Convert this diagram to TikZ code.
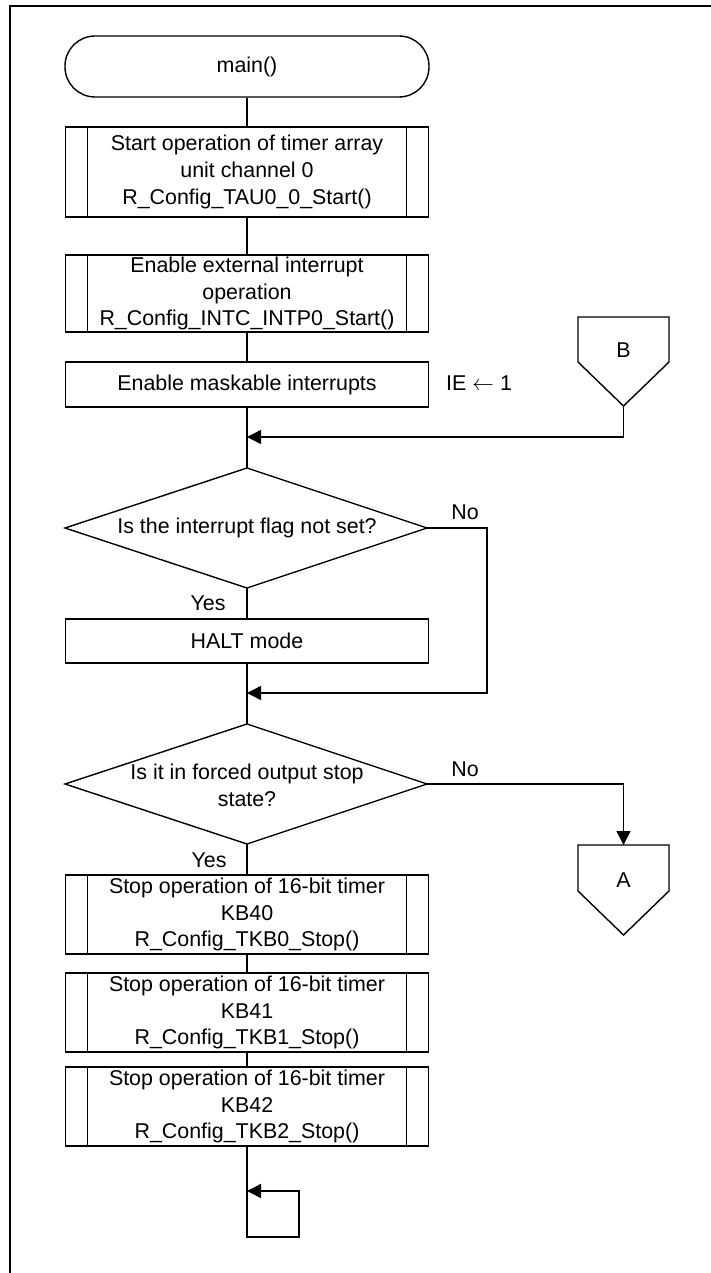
\documentclass[tikz,border=0pt]{standalone}
\usepackage{fontspec}
\setmainfont{Liberation Sans}
\usetikzlibrary{arrows.meta}
\begin{document}
\begin{tikzpicture}[x=0.5pt,y=-0.5pt, line width=0.7pt,
  every node/.style={font=\fontsize{10.7pt}{13.4pt}\selectfont},
  arr/.style={-{Triangle[length=7pt,width=7pt]}},
  box/.style={draw, rectangle, minimum width=181.5pt, inner sep=0pt, align=center, minimum height=#1},
  subproc/.style={box=#1, path picture={
     \draw ([xshift=11pt]path picture bounding box.north west) -- ([xshift=11pt]path picture bounding box.south west);
     \draw ([xshift=-11pt]path picture bounding box.north east) -- ([xshift=-11pt]path picture bounding box.south east);}},
  lbl/.style={inner sep=0pt},
  frame/.style={line width=1.2pt}
]
\useasboundingbox (0,0) rectangle (711,1273);
% frame
\draw[frame] (10,1273) -- (10,6) -- (711,6);

% nodes
\node[draw, rounded corners=15pt, minimum width=182pt, minimum height=30.5pt, inner sep=0pt] (start) at (247,66.5) {main()};
\node[subproc=45pt] (b1) at (247,172) {Start operation of timer array\\unit channel 0\\R\_Config\_TAU0\_0\_Start()};
\node[subproc=38.5pt] (b2) at (247,293.5) {Enable external interrupt\\operation\\R\_Config\_INTC\_INTP0\_Start()};
\node[box=22.5pt] (b3) at (247,384.5) {Enable maskable interrupts};
\node[lbl] (ie) at (479,383) {IE $\leftarrow$ 1};

% connector B
\coordinate (Bpt) at (623.5,406);
\draw (578,317) -- (669,317) -- (669,362) -- (Bpt) -- (578,362) -- cycle;
\node[lbl] (B) at (623.5,350) {B};
\coordinate (j1) at (247,437);

% decision 1
\coordinate (D1t) at (247,468);
\coordinate (D1l) at (65,528);
\coordinate (D1r) at (427,528);
\coordinate (D1b) at (247,588);
\draw (D1t) -- (D1r) -- (D1b) -- (D1l) -- cycle;
\node (D1) at (247,528) {Is the interrupt flag not set?};
\node[lbl] (no1) at (465,512) {No};
\node[lbl] (yes1) at (208,603) {Yes};
\coordinate (n1) at (487,528);
\coordinate (j2) at (247,693);

\node[box=22pt] (halt) at (247,641) {HALT mode};

% decision 2
\coordinate (D2t) at (247,724);
\coordinate (D2l) at (65,784);
\coordinate (D2r) at (427,784);
\coordinate (D2b) at (247,844);
\draw (D2t) -- (D2r) -- (D2b) -- (D2l) -- cycle;
\node[align=center] (D2) at (247,785) {Is it in forced output stop\\state?};
\node[lbl] (no2) at (465,769) {No};
\node[lbl] (yes2) at (209,860) {Yes};

% connector A
\coordinate (Atop) at (623.5,845);
\coordinate (Apt) at (623.5,935);
\draw (Atop) -- (669,845) -- (669,891) -- (Apt) -- (578,891) -- (578,845) -- cycle;
\node[lbl] (A) at (623.5,880) {A};

% stop boxes
\node[subproc=39.5pt] (k0) at (247,914.5) {Stop operation of 16-bit timer\\KB40\\R\_Config\_TKB0\_Stop()};
\node[subproc=39.5pt] (k1) at (247,1012.5) {Stop operation of 16-bit timer\\KB41\\R\_Config\_TKB1\_Stop()};
\node[subproc=39.5pt] (k2) at (247,1106.5) {Stop operation of 16-bit timer\\KB42\\R\_Config\_TKB2\_Stop()};

% loop
\coordinate (L1) at (247,1237);
\coordinate (L3) at (299,1191);
\coordinate (L4) at (247,1191);

% connectors
\draw (start) -- (b1);
\draw (b1) -- (b2);
\draw (b2) -- (b3);
\draw (b3.south) -- (D1t);
\draw[arr] (Bpt) |- (j1);
\draw (D1b) -- (halt);
\draw[arr] (D1r) -- (n1) |- (j2);
\draw (halt) -- (D2t);
\draw[arr] (D2r) -| (Atop);
\draw (D2b) -- (k0);
\draw (k0) -- (k1);
\draw (k1) -- (k2);
\draw[arr] (k2.south) -- (L1) -| (L3) -- (L4);
\end{tikzpicture}
\end{document}
